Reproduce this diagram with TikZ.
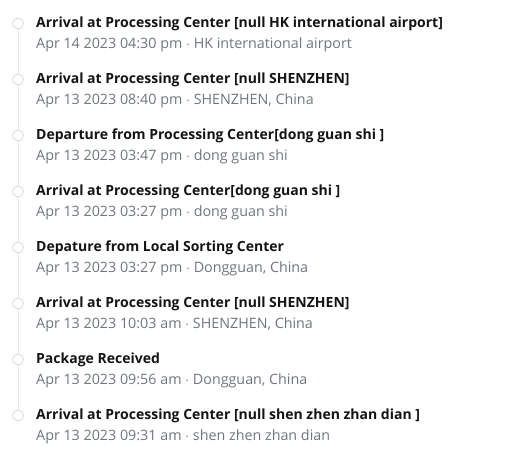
\documentclass[tikz,border=0pt]{standalone}
\usepackage{fontspec}
\setmainfont{Open Sans}
\definecolor{dotgray}{HTML}{DCDCDC}
\definecolor{linegray}{HTML}{E8E8E8}
\definecolor{subgray}{HTML}{6F7580}
\tikzset{
  dot/.style={circle, draw=dotgray, line width=0.9pt, fill=white, minimum size=11pt, inner sep=0pt},
  ttl/.style={anchor=west, inner sep=0pt, font=\fontsize{14}{16}\selectfont\bfseries, text=black!92},
  subttl/.style={anchor=west, inner sep=0pt, font=\fontsize{14.3}{16}\selectfont, text=subgray}
}
\begin{document}
\begin{tikzpicture}[x=1pt, y=-1pt]
    \useasboundingbox (0,0) rectangle (514,464);
    \foreach \i/\head/\info in {
        1/{Arrival at Processing Center [null HK international airport]}/{Apr 14 2023 04:30 pm $\cdot$ HK international airport},
        2/{Arrival at Processing Center [null SHENZHEN]}/{Apr 13 2023 08:40 pm $\cdot$ SHENZHEN, China},
        3/{Departure from Processing Center[dong guan shi ]}/{Apr 13 2023 03:47 pm $\cdot$ dong guan shi},
        4/{Arrival at Processing Center[dong guan shi ]}/{Apr 13 2023 03:27 pm $\cdot$ dong guan shi},
        5/{Depature from Local Sorting Center}/{Apr 13 2023 03:27 pm $\cdot$ Dongguan, China},
        6/{Arrival at Processing Center [null SHENZHEN]}/{Apr 13 2023 10:03 am $\cdot$ SHENZHEN, China},
        7/{Package Received}/{Apr 13 2023 09:56 am $\cdot$ Dongguan, China},
        8/{Arrival at Processing Center [null shen zhen zhan dian ]}/{Apr 13 2023 09:31 am $\cdot$ shen zhen zhan dian}
    }{
        \node[dot] (c\i) at (18, 23.5+56*\i-56) {};
        \node[ttl] (t\i) at (36, 23.5+56*\i-56) {\head};
        \node[subttl] (s\i) at (36, 44.5+56*\i-56) {\info};
    }
    % timeline between the dots
    \foreach \i [evaluate=\i as \j using int(\i+1)] in {1,...,7}
        \draw[linegray, line width=0.9pt] (c\i.south) -- (c\j.north);
\end{tikzpicture}
\end{document}
